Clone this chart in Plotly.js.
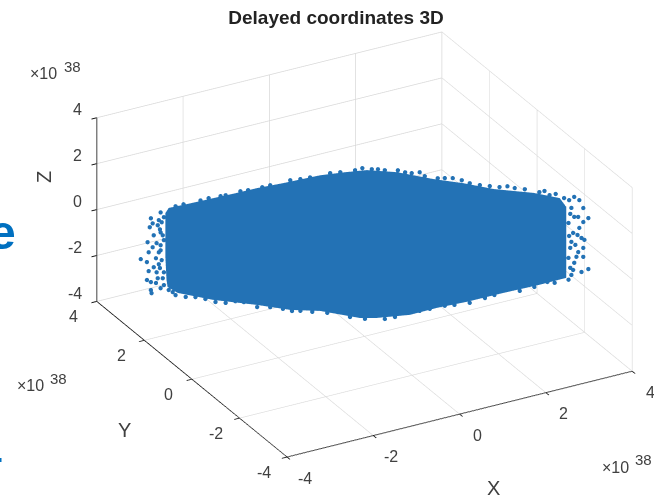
<!DOCTYPE html>
<html>
<head>
<meta charset="utf-8">
<script src="https://cdn.plot.ly/plotly-3.0.1.min.js"></script>
<style>html,body{margin:0;padding:0;background:#fff;overflow:hidden}#chart{width:654px;height:499px}</style>
</head>
<body>
<div id="chart"></div>
<script>
// Values in units of 1e38. Outline of the dense cloud (first entry is its centre).
var outlineX = [0,-3.54,-3.48,-3.09,-2.69,-2.30,-1.91,-1.45,-0.79,-0.35,0.04,0.58,1.23,1.76,2.30,3.01,3.47,3.59,3.59,3.59,3.11,2.47,1.82,1.29,0.81,0.22,-0.08,-0.79,-1.32,-1.91,-2.69,-3.32,-3.50,-3.52,-3.54];
var outlineY = [0,1.95,1.92,1.70,1.48,1.26,1.05,0.80,0.43,0.19,-0.02,-0.32,-0.68,-0.97,-1.26,-1.65,-1.91,-1.97,-1.97,-1.97,-1.71,-1.36,-1.00,-0.71,-0.44,-0.12,0.04,0.43,0.73,1.05,1.48,1.83,1.93,1.94,1.95];
var outlineZ = [0,1.37,1.59,1.80,2.02,2.24,2.46,2.67,3.02,3.15,3.24,3.15,2.85,2.67,2.41,2.24,2.02,1.63,0.20,-1.46,-1.76,-2.11,-2.50,-2.76,-3.07,-3.20,-3.20,-2.89,-2.85,-2.63,-2.41,-2.11,-1.85,-1.54,-0.54];
// Individually visible points along the fringe of the cloud.
var fringeX = [-3.80,-3.77,-3.82,-3.66,-3.68,-3.57,-3.86,-3.75,-3.63,-3.57,-3.77,-3.84,-3.71,-3.98,-3.87,-3.75,-3.84,-3.57,-3.87,-3.80,-3.68,-3.71,-3.63,-3.80,-3.79,-3.63,-3.66,-3.70,-3.70,
3.55,3.73,3.82,3.89,3.98,3.89,3.80,3.82,3.91,3.86,3.71,3.73,3.68,3.63,3.89,3.98,3.86,3.89,3.73,3.68,3.80,3.63,3.71,3.75,3.66,
-3.36,-2.92,-2.47,-2.07,-1.68,-1.14,-0.61,-0.17,0.13,0.36,0.59,0.84,1.07,1.43,1.73,2.05,2.40,2.67,3.11,3.29,
-3.36,-3.01,-2.65,-2.15,-1.91,-1.29,-0.93,-0.43,0.01,0.36,0.98,1.43,2.14,2.76,3.38,
-3.22,-2.77,-2.56,-2.21,-1.82,-1.32,-0.97,-0.43,-0.04,0.24,0.72,0.98,1.30,1.57,1.87,2.23,2.54,2.85,3.20,3.40,
-3.18,-2.83,-2.47,-2.30,-1.68,-1.45,-1.14,-0.66,-0.26,0.54,1.16,1.60,1.87,2.31,3.02,3.25,
-3.63,-3.61,-3.64,-3.59,-3.63,-3.66,-3.61,-3.64,-3.59,-3.57,-3.41,-3.48,
3.64,3.66,3.64,3.66,3.63,3.68,3.79,3.77];
var fringeY = [2.09,2.07,2.10,2.01,2.02,1.96,2.12,2.06,1.99,1.96,2.07,2.11,2.04,2.19,2.13,2.06,2.11,1.96,2.13,2.09,2.02,2.04,1.99,2.09,2.08,1.99,2.01,2.03,2.03,
-1.95,-2.05,-2.10,-2.14,-2.19,-2.14,-2.09,-2.10,-2.15,-2.12,-2.04,-2.05,-2.02,-1.99,-2.14,-2.19,-2.12,-2.14,-2.05,-2.02,-2.09,-1.99,-2.04,-2.06,-2.01,
1.85,1.60,1.36,1.14,0.92,0.63,0.34,0.09,-0.07,-0.20,-0.33,-0.46,-0.59,-0.78,-0.95,-1.13,-1.32,-1.47,-1.71,-1.81,
1.85,1.65,1.46,1.18,1.05,0.71,0.51,0.24,0,-0.20,-0.54,-0.78,-1.18,-1.52,-1.86,
1.77,1.53,1.41,1.21,1.00,0.73,0.53,0.24,0.02,-0.13,-0.40,-0.54,-0.72,-0.86,-1.03,-1.22,-1.40,-1.57,-1.76,-1.87,
1.75,1.56,1.36,1.26,0.92,0.80,0.63,0.37,0.14,-0.30,-0.64,-0.88,-1.03,-1.27,-1.66,-1.79,
1.99,1.98,2.00,1.97,1.99,2.01,1.98,2.00,1.97,1.96,1.88,1.92,
-2.00,-2.01,-2.00,-2.01,-1.99,-2.02,-2.08,-2.07];
var fringeZ = [1.15,0.93,0.76,1.07,0.85,1.20,0.11,0.41,0.54,0.20,-0.11,-0.33,-0.59,-0.63,-0.76,-0.98,-1.15,-1.20,-1.54,-1.63,-1.46,-1.67,-1.89,-1.98,-2.11,-0.24,-0.85,-1.20,0.07,
2.02,2.07,1.93,1.59,1.15,0.98,1.20,0.72,0.20,0.28,0.50,1.20,1.59,0.93,-0.15,-1.07,-1.20,-0.54,-0.80,-1.33,-0.33,-0.59,-1.11,-0.02,-0.15,
1.67,1.93,2.15,2.37,2.59,2.85,3.11,3.24,3.28,3.24,3.24,3.11,2.98,2.89,2.80,2.59,2.50,2.46,2.28,2.15,
-2.20,-2.28,-2.50,-2.50,-2.72,-2.89,-2.93,-2.93,-3.24,-3.24,-2.89,-2.67,-2.33,-2.02,-1.67,
1.76,2.02,2.11,2.33,2.50,2.80,2.93,3.15,3.33,3.28,3.15,3.15,2.89,2.89,2.67,2.54,2.54,2.41,2.33,2.20,
-2.28,-2.37,-2.54,-2.46,-2.72,-2.80,-2.89,-2.98,-3.15,-3.15,-2.80,-2.63,-2.54,-2.20,-1.85,-1.63,
1.41,0.98,0.67,0.41,-0.02,-0.33,-0.67,-1.02,-1.46,-1.76,-2.07,-1.98,
1.93,1.33,0.37,-1.02,-1.54,0.11,0.41,-0.54];
var tickValues = [-4,-2,0,2,4];
var tickLabels = ['-4','-2','0','2','4'];
var chartTitle = 'Delayed coordinates 3D';
var mantissaLabel = '×10';
var exponentLabel = '38';

var blue = '#2372b5';
var textCol = '#404040';
var fontFam = 'Liberation Sans, Arial, sans-serif';
var fanI = [], fanJ = [], fanK = [];
for (var n = 1; n < outlineX.length; n++) {
  fanI.push(0); fanJ.push(n); fanK.push(n + 1 < outlineX.length ? n + 1 : 1);
}
function axis() {
  return {
    title: {text: ''},
    range: [-4, 4], autorange: false,
    tickmode: 'array', tickvals: tickValues, ticktext: tickLabels,
    showticklabels: false,
    showbackground: false, showgrid: true, gridcolor: '#d8d8d8', gridwidth: 1.5,
    showline: true, linecolor: '#111111', linewidth: 2,
    ticks: 'outside', ticklen: 6, tickcolor: '#111111', tickwidth: 2,
    zeroline: false, showspikes: false
  };
}
var data = [
  {type: 'mesh3d', x: outlineX, y: outlineY, z: outlineZ, i: fanI, j: fanJ, k: fanK,
   color: blue, flatshading: true, hoverinfo: 'skip',
   lighting: {ambient: 1, diffuse: 0, specular: 0, roughness: 1, fresnel: 0}},
  {type: 'scatter3d', mode: 'markers', x: fringeX, y: fringeY, z: fringeZ,
   marker: {size: 2.5, color: blue, line: {width: 0}}, hoverinfo: 'skip'}
];
var tickFont = {family: fontFam, size: 16, color: textCol};
var sceneNotes = [];
tickValues.forEach(function (v, idx) {
  sceneNotes.push({x: v, y: -4, z: -4, text: tickLabels[idx], showarrow: false, xshift: 18, yshift: -21, font: tickFont});
  sceneNotes.push({x: -4, y: v, z: -4, text: tickLabels[idx], showarrow: false, xshift: -23, yshift: -15, font: tickFont});
  sceneNotes.push({x: -4, y: 4, z: v, text: tickLabels[idx], showarrow: false, xanchor: 'right', xshift: -13, yshift: 8, font: tickFont});
});
function px(text, cx, cy, size, col, angle) {
  return {text: text, xref: 'paper', yref: 'paper', x: cx / 654, y: 1 - cy / 499, xanchor: 'center', yanchor: 'middle',
    showarrow: false, textangle: angle || 0, font: {family: fontFam, size: size, color: col || textCol}};
}
var layout = {
  width: 654, height: 499,
  margin: {l: 0, r: 0, t: 0, b: 0},
  paper_bgcolor: '#ffffff',
  showlegend: false,
  title: {text: '<b>' + chartTitle + '</b>', x: 336 / 654, xanchor: 'center', y: 1 - 17 / 499, yanchor: 'middle',
    font: {family: fontFam, size: 19, color: '#222222'}},
  scene: {
    domain: {x: [75 / 654, 1], y: [10 / 499, 1]},
    xaxis: axis(), yaxis: axis(), zaxis: axis(),
    aspectmode: 'manual', aspectratio: {x: 1.612, y: 1.612, z: 0.8415},
    camera: {
      projection: {type: 'orthographic'},
      center: {x: 0, y: 0, z: 0},
      up: {x: 0, y: 0, z: 1},
      eye: {x: -0.86, y: -1.56, z: 0.90}
    },
    annotations: sceneNotes
  },
  shapes: [{type: 'rect', xref: 'paper', yref: 'paper', x0: 0, x1: 1.5 / 654, y0: 1 - 462 / 499, y1: 1 - 458 / 499, fillcolor: '#0070c0', line: {width: 0}}],
  annotations: [
    px(mantissaLabel, 43.5, 73, 16), px(exponentLabel, 72, 66, 15),
    px(mantissaLabel, 30, 385, 16), px(exponentLabel, 58, 378, 15),
    px(mantissaLabel, 615, 467, 16), px(exponentLabel, 643, 459, 15),
    px('X', 494, 488, 20), px('Y', 124, 430, 20), px('Z', 44, 177, 20, textCol, -90),
    {text: '<b>e</b>', xref: 'paper', yref: 'paper', x: 18 / 654, y: 1 - 232 / 499, xanchor: 'right', yanchor: 'middle', showarrow: false, font: {family: fontFam, size: 48, color: '#0070c0'}}
  ]
};
Plotly.newPlot('chart', data, layout, {displayModeBar: false});
</script>
</body>
</html>
